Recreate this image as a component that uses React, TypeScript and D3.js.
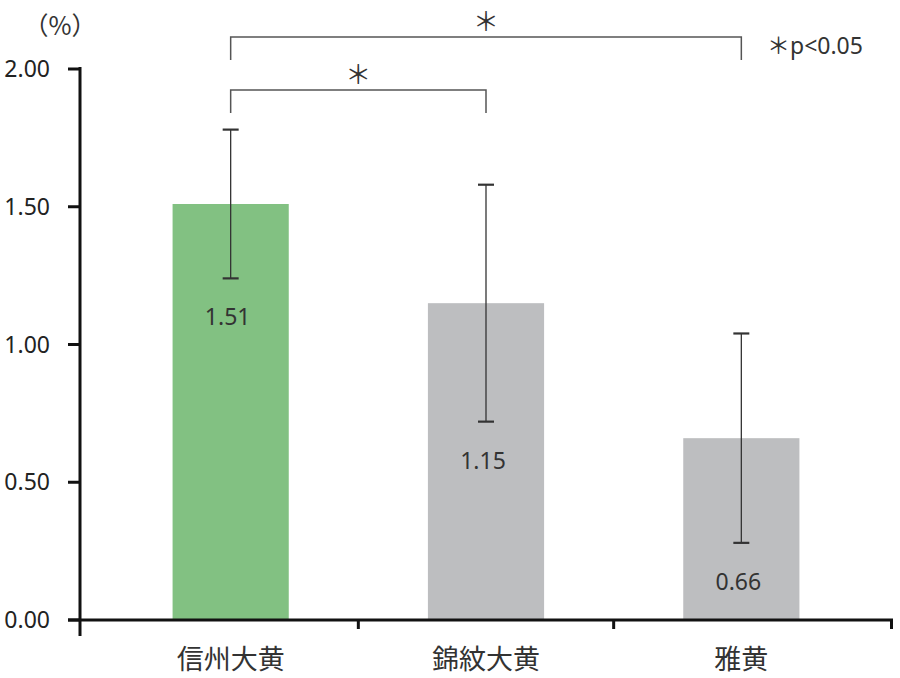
import React, { useEffect, useRef } from 'react';
import * as d3 from 'd3';

const categories = ['信州大黄', '錦紋大黄', '雅黄'];
const means = [1.51, 1.15, 0.66];
const sds = [0.27, 0.43, 0.38];
const barColors = ['#82c182', '#bdbec0', '#bdbec0'];
const yTicks = [0, 0.5, 1.0, 1.5, 2.0];
// significance pairs (index of category a, index of category b, level)
const sigPairs: [number, number, number][] = [
    [0, 2, 0],
    [0, 1, 1],
];

const FONT = "'Noto Sans CJK JP', 'Noto Sans', sans-serif";
const NUM_FONT = "'Noto Sans', 'Open Sans', sans-serif";

export default function App() {
    const svgRef = useRef<SVGSVGElement>(null);

    useEffect(() => {
        document.body.style.margin = '0';
        if (!svgRef.current) return;
        const svg = d3.select(svgRef.current);
        svg.selectAll('*').remove();

        const width = 900;
        const height = 678;
        const axisX = 80;
        const axisRight = 893;

        const y = d3.scaleLinear().domain([0, 2]).range([620, 69]);
        const x = d3.scaleBand<string>()
            .domain(categories)
            .range([103, 869])
            .paddingInner(0.545)
            .paddingOuter(0.2725);

        svg.attr('width', width).attr('height', height);

        // bars
        svg.selectAll('.bar')
            .data(categories)
            .enter().append('rect')
            .attr('class', 'bar')
            .attr('x', d => x(d)!)
            .attr('width', x.bandwidth())
            .attr('y', (d, i) => y(means[i]))
            .attr('height', (d, i) => y(0) - y(means[i]))
            .attr('fill', (d, i) => barColors[i]);

        // error bars
        const eb = svg.selectAll('.err')
            .data(categories)
            .enter().append('g')
            .attr('class', 'err')
            .attr('stroke', '#333')
            .attr('stroke-width', 1.3);
        eb.append('line')
            .attr('x1', d => x(d)! + x.bandwidth() / 2)
            .attr('x2', d => x(d)! + x.bandwidth() / 2)
            .attr('y1', (d, i) => y(means[i] + sds[i]))
            .attr('y2', (d, i) => y(means[i] - sds[i]));
        [1, -1].forEach(s => {
            eb.append('line')
                .attr('x1', d => x(d)! + x.bandwidth() / 2 - 8)
                .attr('x2', d => x(d)! + x.bandwidth() / 2 + 8)
                .attr('y1', (d, i) => y(means[i] + s * sds[i]))
                .attr('y2', (d, i) => y(means[i] + s * sds[i]))
                .attr('stroke-width', 2.2);
        });

        // value labels
        svg.selectAll('.val')
            .data(categories)
            .enter().append('text')
            .attr('x', d => x(d)! + x.bandwidth() / 2 - 3)
            .attr('y', (d, i) => y(means[i] - sds[i]) + 47)
            .attr('text-anchor', 'middle')
            .style('font-family', NUM_FONT)
            .style('font-size', '23px')
            .style('fill', '#333')
            .text((d, i) => means[i].toFixed(2));

        // axes
        const axisColor = '#111';
        svg.append('line')
            .attr('x1', axisX).attr('x2', axisX)
            .attr('y1', y(2) - 2).attr('y2', 636)
            .attr('stroke', axisColor).attr('stroke-width', 3);
        svg.append('line')
            .attr('x1', 68).attr('x2', axisRight)
            .attr('y1', y(0)).attr('y2', y(0))
            .attr('stroke', axisColor).attr('stroke-width', 3);

        // y ticks
        yTicks.forEach(t => {
            svg.append('line')
                .attr('x1', 68).attr('x2', axisX)
                .attr('y1', y(t)).attr('y2', y(t))
                .attr('stroke', axisColor).attr('stroke-width', 3);
            svg.append('text')
                .attr('x', 50)
                .attr('y', y(t) + 8)
                .attr('text-anchor', 'end')
                .style('font-family', NUM_FONT)
                .style('font-size', '23px')
                .style('fill', '#222')
                .text(t.toFixed(2));
        });

        // x ticks at band boundaries
        const boundaries = categories.slice(1).map(c => x(c)! - (x.step() - x.bandwidth()) / 2);
        boundaries.concat([axisRight - 1.5]).forEach(bx => {
            svg.append('line')
                .attr('x1', bx).attr('x2', bx)
                .attr('y1', y(0)).attr('y2', 629)
                .attr('stroke', axisColor).attr('stroke-width', 3);
        });

        // category labels
        svg.selectAll('.cat')
            .data(categories)
            .enter().append('text')
            .attr('x', d => x(d)! + x.bandwidth() / 2)
            .attr('y', 669)
            .attr('text-anchor', 'middle')
            .style('font-family', FONT)
            .style('font-size', '27px')
            .style('fill', '#333')
            .text(d => d);

        // unit
        svg.append('text')
            .attr('x', 60)
            .attr('y', 35)
            .attr('text-anchor', 'middle')
            .style('font-family', FONT)
            .style('font-size', '25px')
            .style('fill', '#333')
            .text('（%）');

        // significance brackets
        sigPairs.forEach(([a, b, level]) => {
            const xa = x(categories[a])! + x.bandwidth() / 2;
            const xb = x(categories[b])! + x.bandwidth() / 2;
            const top = 37 + level * 53;
            svg.append('path')
                .attr('d', `M${xa},${top + 23}V${top}H${xb}V${top + 23}`)
                .attr('fill', 'none')
                .attr('stroke', '#555')
                .attr('stroke-width', 1.5);
            svg.append('text')
                .attr('x', (xa + xb) / 2)
                .attr('y', top - 6)
                .attr('text-anchor', 'middle')
                .style('font-family', FONT)
                .style('font-size', '26px')
                .style('fill', '#333')
                .text('＊');
        });

        // legend
        const legend = svg.append('text')
            .attr('x', 767)
            .attr('y', 54)
            .style('font-size', '23px')
            .style('fill', '#333');
        legend.append('tspan').style('font-family', FONT).text('＊');
        legend.append('tspan').style('font-family', NUM_FONT).text('p<0.05');
    }, []);

    return <svg ref={svgRef} style={{ display: 'block' }} />;
}
